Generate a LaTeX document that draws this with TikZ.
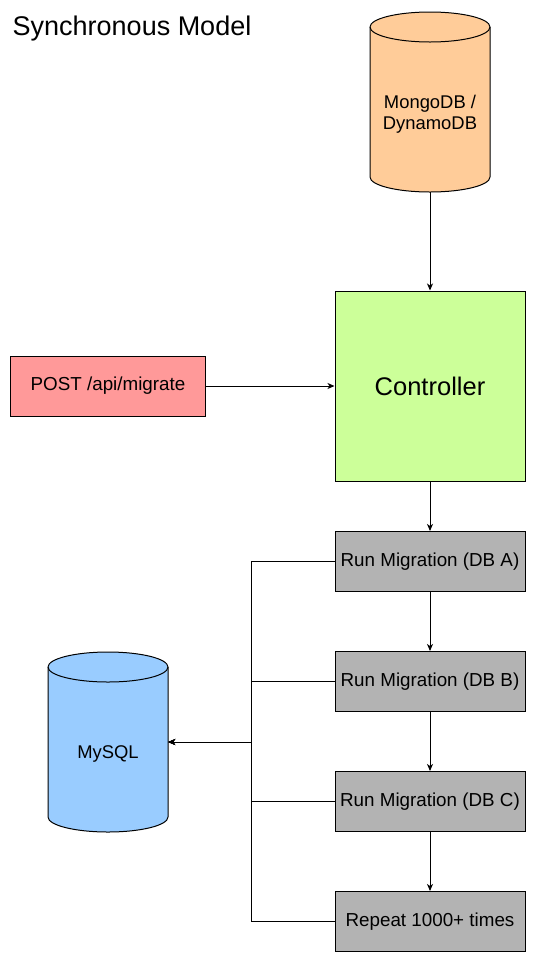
\documentclass[tikz,border=0pt]{standalone}
\usepackage{fontspec}
\setmainfont{Liberation Sans}
\usetikzlibrary{arrows.meta}
\definecolor{mongofill}{HTML}{FFCC99}
\definecolor{ctrlfill}{HTML}{CCFF99}
\definecolor{postfill}{HTML}{FF9999}
\definecolor{runfill}{HTML}{B3B3B3}
\definecolor{sqlfill}{HTML}{99CCFF}
\tikzset{
  boxstyle/.style={draw=black, line width=1pt, minimum width=190pt, minimum height=60pt, inner sep=0pt, font=\fontsize{18.8}{22}\selectfont},
  runbox/.style={boxstyle, fill=runfill},
  cylnode/.style={minimum width=120pt, minimum height=180pt, inner sep=0pt},
  cyltext/.style={font=\fontsize{18.4}{21.5}\selectfont, align=center, inner sep=0pt},
  conn/.style={line width=1pt, -{Stealth[length=7pt,width=6pt,inset=2pt]}},
  plainconn/.style={line width=1pt}
}
\begin{document}
\begin{tikzpicture}[x=1pt,y=-1pt]
\useasboundingbox (0,0) rectangle (536,962);

% title
\node[anchor=base west, inner sep=0pt, font=\fontsize{27}{32}\selectfont] (title) at (12.5,35) {Synchronous Model};

% MongoDB cylinder
\filldraw[fill=mongofill, line width=1pt] (370,27) -- (370,177) arc[start angle=180, end angle=360, x radius=60pt, y radius=15pt] -- (490,27) arc[start angle=0, end angle=180, x radius=60pt, y radius=15pt] -- cycle;
\draw[line width=1pt] (370,27) arc[start angle=180, end angle=360, x radius=60pt, y radius=15pt];
\node[cylnode] (mongo) at (430,102) {};
\node[cyltext] (mongotext) at (430,114) {MongoDB /\\DynamoDB};

% MySQL cylinder
\filldraw[fill=sqlfill, line width=1pt] (48,667) -- (48,817) arc[start angle=180, end angle=360, x radius=60pt, y radius=15pt] -- (168,667) arc[start angle=0, end angle=180, x radius=60pt, y radius=15pt] -- cycle;
\draw[line width=1pt] (48,667) arc[start angle=180, end angle=360, x radius=60pt, y radius=15pt];
\node[cylnode] (mysql) at (108,742) {};
\node[cyltext] (mysqltext) at (108,754) {MySQL};

% Controller
\node[boxstyle, fill=ctrlfill, minimum height=190pt, font=\fontsize{25.5}{30}\selectfont] (ctrl) at (430,386) {Controller};

% POST
\node[boxstyle, fill=postfill, minimum width=195pt] (post) at (108,386) {POST /api/migrate};

% Run boxes
\node[runbox] (runa) at (430,561.5) {Run Migration (DB A)};
\node[runbox] (runb) at (430,681.5) {Run Migration (DB B)};
\node[runbox] (runc) at (430,801.5) {Run Migration (DB C)};
\node[runbox] (rep) at (430,921.5) {Repeat 1000+ times};

% junction
\coordinate (j) at (251,742);

% connectors
\draw[conn] (mongo.south) -- (ctrl.north);
\draw[conn] (post.east) -- (ctrl.west);
\draw[conn] (ctrl.south) -- (runa.north);
\draw[conn] (runa.south) -- (runb.north);
\draw[conn] (runb.south) -- (runc.north);
\draw[conn] (runc.south) -- (rep.north);

\draw[conn] (runa.west) -| (j) -- (mysql.east);
\draw[conn] (runb.west) -| (j) -- (mysql.east);
\draw[conn] (runc.west) -| (j) -- (mysql.east);
\draw[conn] (rep.west) -| (j) -- (mysql.east);
\end{tikzpicture}
\end{document}
